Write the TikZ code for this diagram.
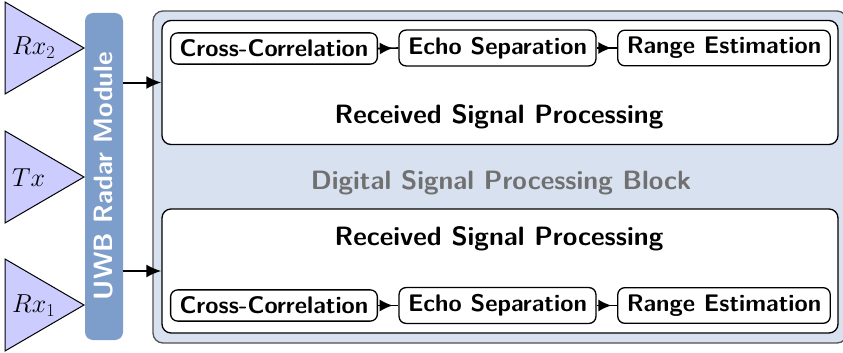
\RequirePackage{fix-cm}
\documentclass[tikz,border=0pt]{standalone}
\usepackage{fontspec}
\usetikzlibrary{arrows.meta,decorations.markings}

\definecolor{uwbblue}{HTML}{7D9DCB}
\definecolor{dspfill}{HTML}{D8E1EF}
\definecolor{antfill}{HTML}{CCCCFF}
\definecolor{dspedge}{HTML}{505050}
\definecolor{dsptext}{HTML}{707070}

\begin{document}
\begin{tikzpicture}[x=1pt,y=-1pt,
  font=\fontsize{26.5}{31}\selectfont\sffamily\bfseries,
  antenna/.style={draw=black, fill=antfill, line width=1pt, line join=miter},
  antlabel/.style={font=\fontsize{26}{30}\selectfont, inner sep=0pt},
  radar/.style={fill=uwbblue, rounded corners=8pt, minimum width=38pt, minimum height=327pt, inner sep=0pt},
  dspblock/.style={draw=dspedge, fill=dspfill, line width=1.3pt, rounded corners=10pt,
    minimum width=694pt, minimum height=332pt, inner sep=0pt},
  rxblock/.style={draw=black, fill=white, line width=1.3pt, rounded corners=9pt,
    minimum width=676pt, minimum height=124pt, inner sep=0pt},
  stagebox/.style={draw=black, fill=white, line width=1.3pt, rounded corners=7pt,
    font=\fontsize{24}{28}\selectfont\sffamily\bfseries, inner xsep=9pt, inner ysep=7pt},
  feed/.style={line width=2pt, -{Latex[length=15pt,width=13pt]}},
  flow/.style={line width=1.6pt, postaction={decorate},
    decoration={markings, mark=at position 0.72 with {\arrow{Latex[length=13pt,width=12pt]}}}}
]
\clip (0,0) rectangle (843,353);

% antennas
\draw[antenna] (5,2) -- (5,94) -- (84,48) -- cycle;
\draw[antenna] (5,131) -- (5,223) -- (84,177) -- cycle;
\draw[antenna] (5,259) -- (5,351) -- (84,305) -- cycle;
\node[antlabel, anchor=west] (rx2) at (12,48) {$Rx_2$};
\node[antlabel, anchor=west] (tx) at (12,178) {$Tx$};
\node[antlabel, anchor=west] (rx1) at (12,306) {$Rx_1$};

% radar front end
\node[radar] (uwb) at (104,176.5) {};
\node[rotate=90, text=white, inner sep=0pt] (uwblabel) at (104,176) {UWB Radar Module};

% digital signal processing block
\node[dspblock] (dsp) at (500,177) {};
\node[text=dsptext, anchor=base] (dsplabel) at (501,189) {Digital Signal Processing Block};

% upper receive chain
\node[rxblock] (rspA) at (500,82.5) {};
\node[anchor=base] (rspAlabel) at (499,123) {Received Signal Processing};
\node[stagebox] (ccA) at (274,48.5) {Cross-Correlation};
\node[stagebox] (esA) at (497.5,48) {Echo Separation};
\node[stagebox] (reA) at (724,48) {Range Estimation};
\draw[flow] (ccA.east) -- (esA.west);
\draw[flow] (esA.east) -- (reA.west);

% lower receive chain
\node[rxblock] (rspB) at (500,271) {};
\node[anchor=base] (rspBlabel) at (499,245) {Received Signal Processing};
\node[stagebox] (ccB) at (274,305.5) {Cross-Correlation};
\node[stagebox] (esB) at (497.5,305.5) {Echo Separation};
\node[stagebox] (reB) at (724,305.5) {Range Estimation};
\draw[flow] (ccB.east) -- (esB.west);
\draw[flow] (esB.east) -- (reB.west);

% radar outputs into the processing chains
\draw[feed] (uwb.east |- rspA.west) -- (rspA.west);
\draw[feed] (uwb.east |- rspB.west) -- (rspB.west);
\end{tikzpicture}
\end{document}
